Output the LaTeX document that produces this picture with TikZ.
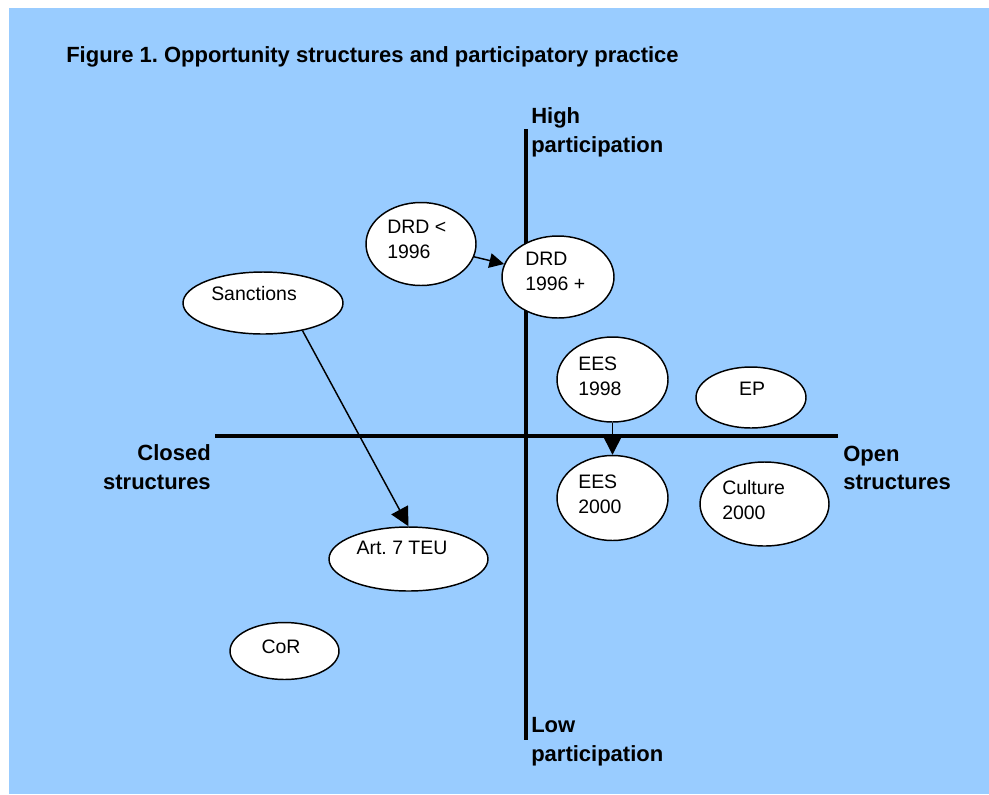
\documentclass[tikz,border=0pt]{standalone}
\usepackage{fontspec}
\setmainfont{Liberation Sans}
\usetikzlibrary{arrows.meta,shapes.geometric}
\definecolor{bgblue}{HTML}{99CCFF}
\frenchspacing
\begin{document}
\begin{tikzpicture}[x=0.75pt,y=-0.75pt,
  blob/.style={draw=black,line width=1.1pt,fill=white,ellipse,inner sep=0pt},
  intext/.style={inner sep=0pt,font=\fontsize{14.6}{18.75}\selectfont,align=left},
  axlabel/.style={inner sep=0pt,font=\fontsize{16.5}{21.5}\selectfont\bfseries},
  axisline/.style={line width=3.6pt},
  conn/.style={line width=1.1pt,-{Triangle[length=11pt,width=11pt]}},
  bigconn/.style={line width=1.1pt,-{Triangle[length=14pt,width=14pt]}}]
\useasboundingbox (0,0) rectangle (989,794);
\fill[bgblue] (9,8) rectangle (989,794);
% title
\node[axlabel,anchor=base west] (title) at (66,62) {Figure 1. Opportunity structures and participatory practice};
% axes
\coordinate (vtop) at (526,129);
\coordinate (vbot) at (526,740);
\coordinate (hleft) at (215,436);
\coordinate (hright) at (838,436);
\draw[axisline] (vtop) -- (vbot);
\draw[axisline] (hleft) -- (hright);
% axis labels
\node[axlabel,align=left,anchor=west] (high) at (531,132) {High\\participation};
\node[axlabel,align=left,anchor=west] (low) at (531,742) {Low\\participation};
\node[axlabel,align=right,anchor=east] (closed) at (211,467) {Closed\\structures};
\node[axlabel,align=left,anchor=west] (open) at (843,468) {Open\\structures};
% ellipses
\node[blob,minimum width=110*0.75pt,minimum height=83*0.75pt] (drdold) at (421,244) {};
\node[blob,minimum width=112*0.75pt,minimum height=82*0.75pt] (drdnew) at (558,277) {};
\node[blob,minimum width=160*0.75pt,minimum height=62*0.75pt] (sanc) at (263,303) {};
\node[blob,minimum width=159*0.75pt,minimum height=64*0.75pt] (art) at (408.5,559) {};
\node[blob,minimum width=109*0.75pt,minimum height=57*0.75pt] (cor) at (284.5,651) {};
\node[blob,minimum width=111*0.75pt,minimum height=85*0.75pt] (ees98) at (612.5,379.5) {};
\node[blob,minimum width=111*0.75pt,minimum height=85*0.75pt] (ees00) at (612.5,498) {};
\node[blob,minimum width=110*0.75pt,minimum height=61*0.75pt] (ep) at (751,397.5) {};
\node[blob,minimum width=129*0.75pt,minimum height=84*0.75pt] (cult) at (764.5,504) {};
% ellipse texts
\node[intext,anchor=west] (tdrdold) at (387,239) {DRD <\\1996};
\node[intext,anchor=west] (tdrdnew) at (525,271) {DRD\\1996 +};
\node[intext] (tsanc) at (254,294) {Sanctions};
\node[intext] (tart) at (402,548) {Art. 7 TEU};
\node[intext] (tcor) at (281,647) {CoR};
\node[intext,anchor=west] (tees98) at (578,376) {EES\\1998};
\node[intext,anchor=west] (tees00) at (578,494) {EES\\2000};
\node[intext] (tep) at (752,389) {EP};
\node[intext,anchor=west] (tcult) at (722,500) {Culture\\2000};
% connectors
\draw[conn] (drdold) -- (drdnew);
\draw[bigconn] (sanc.-35) -- (art.north);
\draw[bigconn] (ees98) -- (ees00);
\end{tikzpicture}
\end{document}
